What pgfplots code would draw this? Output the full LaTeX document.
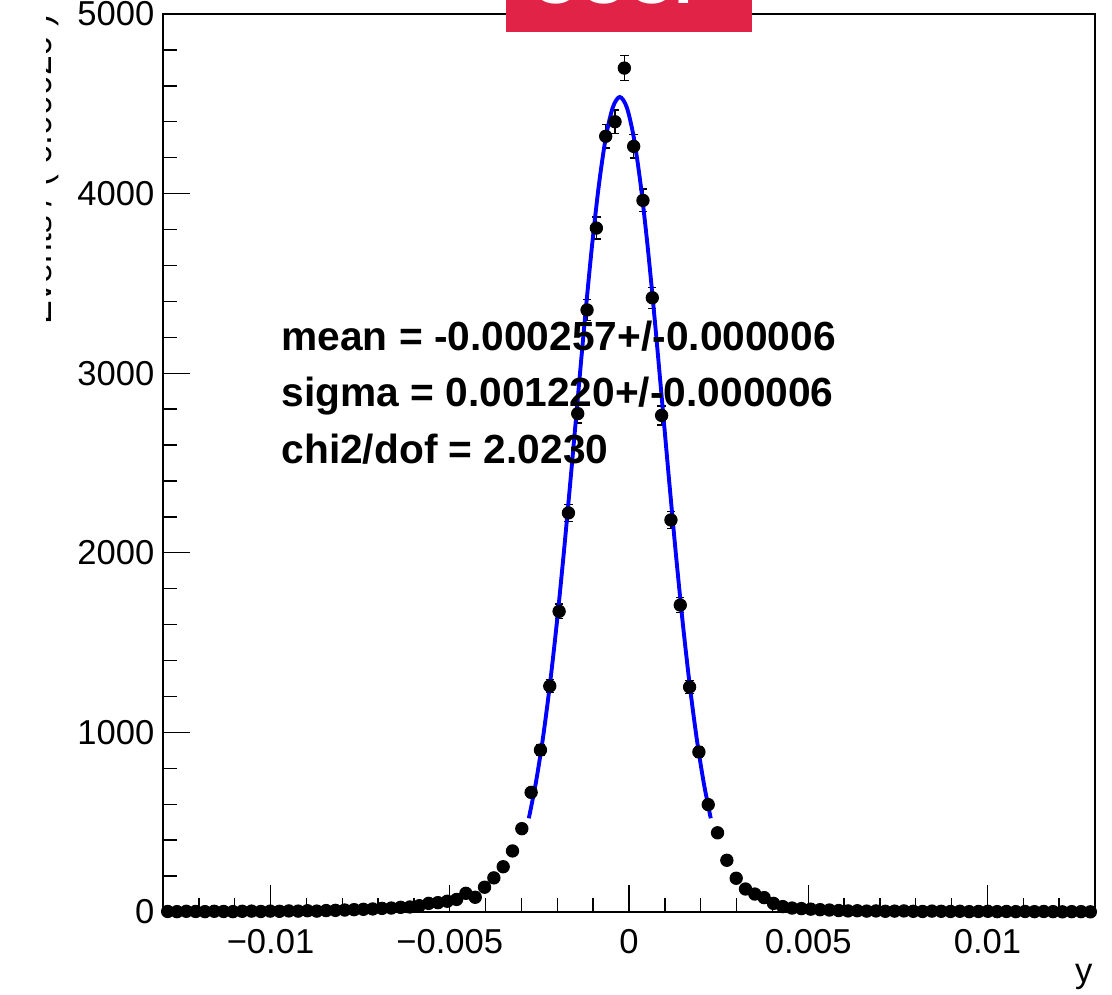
\documentclass[border=0pt]{standalone}
\usepackage{fontspec}
\setmainfont{Liberation Sans}
\usepackage{pgfplots}
\usepackage{pgfplotstable}
\pgfplotsset{compat=1.18}
\definecolor{rootred}{RGB}{225,35,72}
\pgfplotstableread{
x y e
-0.01287 3 1.7
-0.01261 2 1.4
-0.01235 4 2.0
-0.01209 3 1.7
-0.01183 2 1.4
-0.01157 4 2.0
-0.01131 3 1.7
-0.01105 2 1.4
-0.01079 4 2.0
-0.01053 5 2.2
-0.01027 3 1.7
-0.01001 5 2.2
-0.00975 4 2.0
-0.00949 6 2.4
-0.00923 5 2.2
-0.00897 7 2.6
-0.00871 5 2.2
-0.00845 8 2.8
-0.00819 9 3.0
-0.00793 11 3.3
-0.00767 13 3.6
-0.00741 15 3.9
-0.00715 17 4.1
-0.00689 20 4.5
-0.00663 22 4.7
-0.00637 26 5.1
-0.00611 28 5.3
-0.00585 35 5.9
-0.00559 48 6.9
-0.00533 52 7.2
-0.00507 60 7.7
-0.00481 70 8.4
-0.00455 104 10.2
-0.00429 82 9.1
-0.00403 138 11.7
-0.00377 190 13.8
-0.00351 252 15.9
-0.00325 340 18.4
-0.00299 464 21.5
-0.00273 666 25.8
-0.00247 902 30.0
-0.00221 1258 35.5
-0.00195 1674 40.9
-0.00169 2222 47.1
-0.00143 2775 52.7
-0.00117 3352 57.9
-0.00091 3808 61.7
-0.00065 4319 65.7
-0.00039 4400 66.3
-0.00013 4699 68.5
0.00013 4263 65.3
0.00039 3962 62.9
0.00065 3420 58.5
0.00091 2765 52.6
0.00117 2183 46.7
0.00143 1709 41.3
0.00169 1253 35.4
0.00195 891 29.8
0.00221 598 24.5
0.00247 441 21.0
0.00273 288 17.0
0.00299 188 13.7
0.00325 128 11.3
0.00351 100 10.0
0.00377 80 8.9
0.00403 48 6.9
0.00429 30 5.5
0.00455 22 4.7
0.00481 19 4.4
0.00507 16 4.0
0.00533 13 3.6
0.00559 11 3.3
0.00585 8 2.8
0.00611 6 2.4
0.00637 7 2.6
0.00663 5 2.2
0.00689 6 2.4
0.00715 4 2.0
0.00741 5 2.2
0.00767 6 2.4
0.00793 4 2.0
0.00819 3 1.7
0.00845 5 2.2
0.00871 4 2.0
0.00897 3 1.7
0.00923 4 2.0
0.00949 2 1.4
0.00975 3 1.7
0.01001 4 2.0
0.01027 2 1.4
0.01053 3 1.7
0.01079 2 1.4
0.01105 3 1.7
0.01131 2 1.4
0.01157 3 1.7
0.01183 2 1.4
0.01209 1 1.0
0.01235 2 1.4
0.01261 2 1.4
0.01287 1 1.0
}\datatab
\pgfplotstableread{
x y
-0.0027946 521.8
-0.0025994 718.5
-0.0024042 964
-0.0022090 1262
-0.0020138 1609
-0.0018186 2000
-0.0016234 2424
-0.0014282 2862
-0.0012330 3295
-0.0010378 3698
-0.0008426 4044
-0.0006474 4312
-0.0004522 4480
-0.0002570 4538
-0.0000618 4480
0.0001334 4312
0.0003286 4044
0.0005238 3698
0.0007190 3295
0.0009142 2862
0.0011094 2424
0.0013046 2000
0.0014998 1609
0.0016950 1262
0.0018902 964
0.0020854 718.5
0.0022806 521.8
}\fittab
\begin{document}
\begin{tikzpicture}
\useasboundingbox (-58.68pt,-29.52pt) rectangle (341.64pt,328.32pt);
\begin{scope}
\clip (-58.68pt,-29.52pt) rectangle (341.64pt,328.32pt);
\begin{axis}[
  at={(0pt,0pt)}, anchor=south west,
  scale only axis, width=335.52pt, height=323.28pt,
  xmin=-0.013, xmax=0.013, ymin=0, ymax=5000,
  clip=false,
  axis line style={line width=0.7pt, black},
  tick style={line width=0.5pt, black},
  tick align=inside,
  xtick pos=left, ytick pos=left,
  xtick={-0.01,-0.005,0,0.005,0.01},
  xticklabels={−0.01,−0.005,0,0.005,0.01},
  minor xtick={-0.012,-0.011,-0.009,-0.008,-0.007,-0.006,-0.004,-0.003,-0.002,-0.001,0.001,0.002,0.003,0.004,0.006,0.007,0.008,0.009,0.011,0.012},
  ytick={0,1000,2000,3000,4000,5000},
  yticklabels={0,1000,2000,3000,4000,5000},
  minor ytick={200,400,600,800,1200,1400,1600,1800,2200,2400,2600,2800,3200,3400,3600,3800,4200,4400,4600,4800},
  major tick length=9.7pt, minor tick length=4.9pt,
  tick label style={font=\fontsize{12.45}{14}\selectfont},
  xticklabel style={anchor=base, inner sep=0pt, yshift=-14.8pt},
  yticklabel style={anchor=east, inner sep=0pt, xshift=-2.9pt},
]
\addplot[only marks, mark=*, mark size=2.2pt, black,
  error bars/.cd, y dir=both, y explicit,
  error bar style={line width=0.5pt, black},
  error mark=-,
  error mark options={rotate=90, line width=0.5pt, mark size=1.5pt, black}]
  table[x=x, y=y, y error=e] {\datatab};
\addplot[blue, line width=1.4pt, smooth, no marks] table[x=x, y=y] {\fittab};
\end{axis}
\node[anchor=base west, inner sep=0pt, font=\bfseries\fontsize{14.65}{16}\selectfont] at (42.48pt,201.96pt) {mean = -0.000257+/-0.000006};
\node[anchor=base west, inner sep=0pt, font=\bfseries\fontsize{14.65}{16}\selectfont] at (42.48pt,181.8pt) {sigma = 0.001220+/-0.000006};
\node[anchor=base west, inner sep=0pt, font=\bfseries\fontsize{14.65}{16}\selectfont] at (42.48pt,161.28pt) {chi2/dof = 2.0230};
\node[anchor=base east, inner sep=0pt, font=\fontsize{12.45}{14}\selectfont] at (334.8pt,-25.5pt) {y};
\node[overlay, rotate=90, anchor=base east, inner sep=0pt, font=\fontsize{12.8}{14}\selectfont] at (-40.0pt,323.28pt) {Events / ( 0.00026 )};
\fill[overlay, white] (-60pt,-30pt) rectangle (-42.12pt,330pt);
\fill[overlay, rootred] (123.48pt,316.8pt) rectangle (212.04pt,340pt);
\node[overlay, anchor=base, inner sep=0pt, text=white, font=\bfseries\fontsize{24}{26}\selectfont] at (166.3pt,326.9pt) {CCCP};
\end{scope}
\end{tikzpicture}
\end{document}
